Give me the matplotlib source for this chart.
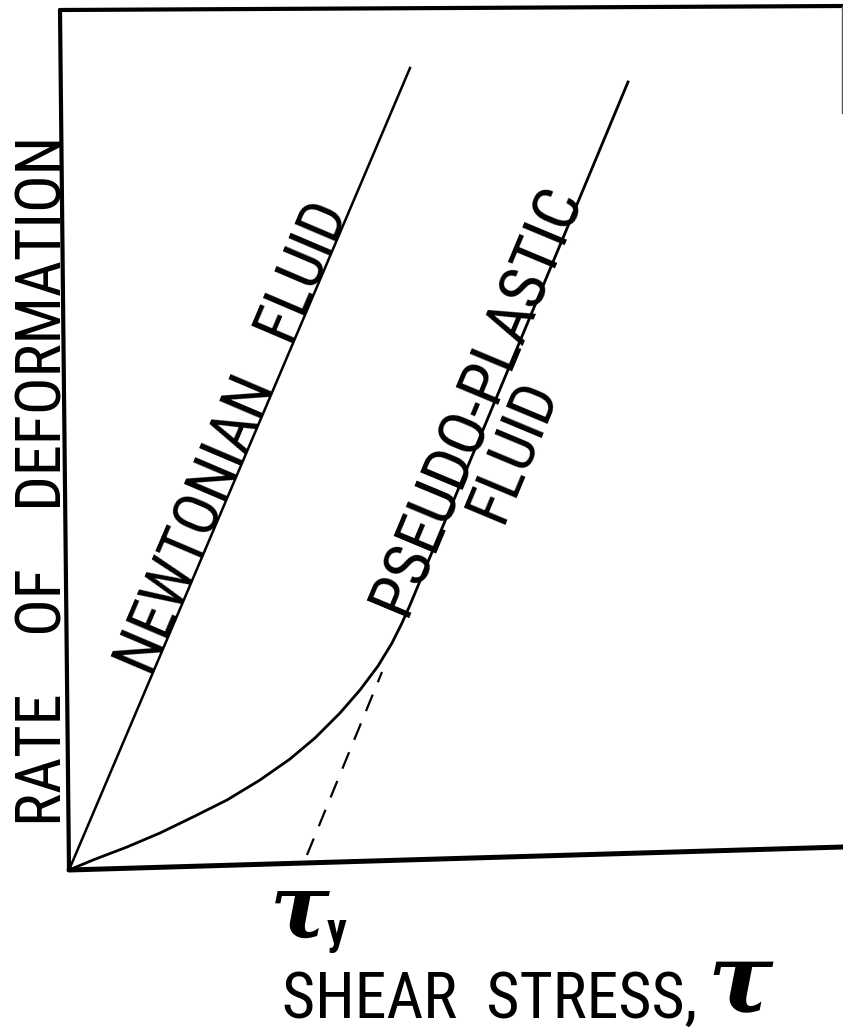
import numpy as np
import matplotlib
matplotlib.use("Agg")
import matplotlib.pyplot as plt
from matplotlib import font_manager

# 字体：优先用窄体，没有就退回普通无衬线
def pick_font(names):
    for n in names:
        try:
            font_manager.findfont(n, fallback_to_default=False)
            return n
        except Exception:
            pass
    return "DejaVu Sans"

label_font = pick_font(["Liberation Sans Narrow", "Roboto Condensed", "Liberation Sans", "DejaVu Sans"])
plt.rcParams["font.family"] = [label_font, "DejaVu Sans"]

# 数据（单位：原点为0，按图上像素读出）
# 坐标轴框线
frame_bottom_x = [0, 774]
frame_bottom_y = [0, 23]
frame_left_x = [0, -9]
frame_left_y = [0, 860]
frame_top_x = [-9, 774]
frame_top_y = [860, 864]
frame_right_x = [773, 773]
frame_right_y = [864, 757]

# 牛顿流体：直线
newton_stress = [0, 341]
newton_rate = [0, 802]

# 假塑性流体：曲线 + 直线段
pseudo_stress = [0, 24, 58, 91, 124, 158, 191, 221, 246, 271, 291, 309, 323, 333, 341, 559]
pseudo_rate = [0, 10, 23, 37, 53, 70, 90, 111, 132, 157, 180, 204, 227, 247, 265, 788]

# 屈服应力外推虚线
yield_stress = [238, 313]
yield_rate = [15, 198]

fig = plt.figure(figsize=(8.43, 10.31), dpi=100)
ax = fig.add_axes([0, 0, 1, 1])
ax.set_xlim(-69, 774)
ax.set_ylim(-161, 870)
ax.axis("off")

# 框线
ax.plot(frame_bottom_x, frame_bottom_y, color="black", lw=3.6, solid_capstyle="round")
ax.plot(frame_left_x, frame_left_y, color="black", lw=3.0, solid_capstyle="round")
ax.plot(frame_top_x, frame_top_y, color="black", lw=3.0, solid_capstyle="round")
ax.plot(frame_right_x, frame_right_y, color="#555555", lw=1.0)

# 曲线
ax.plot(newton_stress, newton_rate, color="black", lw=1.8)
ax.plot(pseudo_stress, pseudo_rate, color="black", lw=2.0, solid_joinstyle="round")
ax.plot(yield_stress, yield_rate, color="black", lw=1.6, linestyle=(0, (8, 6)))

# 文字
ang_newton = np.degrees(np.arctan2(newton_rate[1], newton_stress[1]))
ang_pseudo = np.degrees(np.arctan2(pseudo_rate[-1] - pseudo_rate[-2], pseudo_stress[-1] - pseudo_stress[-2]))

ax.text(-7, 44, "RATE    OF    DEFORMATION", rotation=90, rotation_mode="anchor",
        ha="left", va="baseline", fontsize=45, color="black")
ax.text(83, 192, "NEWTONIAN   FLUID", rotation=ang_newton, rotation_mode="anchor",
        ha="left", va="baseline", fontsize=45, color="black")
ax.text(337, 252, "PSEUDO-PLASTIC", rotation=ang_pseudo, rotation_mode="anchor",
        ha="left", va="baseline", fontsize=47, color="black")
ax.text(444, 419, "FLUID", rotation=ang_pseudo, rotation_mode="anchor",
        ha="center", va="center", fontsize=45, color="black")

# τy 和横轴标题
ax.text(231, -42, "τ", family="DejaVu Serif", weight="bold", style="italic",
        fontsize=64, ha="center", va="center")
ax.text(268, -62, "y", weight="bold", fontsize=32, ha="center", va="center")
ax.text(213, -148, "SHEAR  STRESS,", ha="left", va="baseline", fontsize=46)
ax.text(671, -114, "τ", family="DejaVu Serif", weight="bold", style="italic",
        fontsize=70, ha="center", va="center")

fig.savefig("out.png", dpi=100)
